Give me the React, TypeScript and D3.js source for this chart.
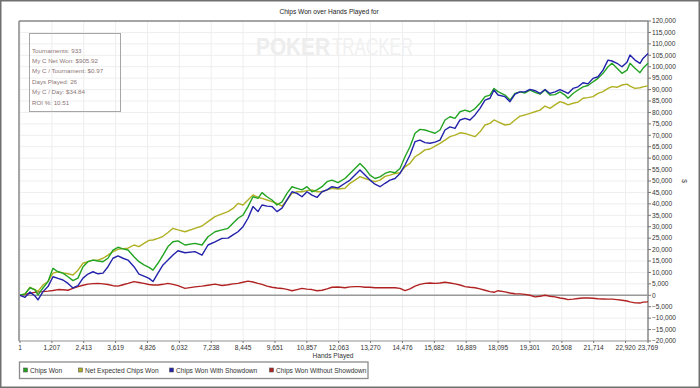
import React from "react";
import * as d3 from "d3";

// hands played at each sample point
const hands = [1, 190, 379, 568, 681, 871, 1060, 1249, 1438, 1627, 1817, 2006, 2195, 2385, 2574, 2763, 2952, 3142, 3331, 3520, 3709, 3899, 4088, 4315, 4504, 4693, 4883, 5034, 5223, 5413, 5602, 5791, 5980, 6245, 6624, 6889, 7116, 7381, 7646, 7873, 8062, 8251, 8441, 8630, 8819, 9008, 9160, 9349, 9538, 9727, 9917, 10106, 10295, 10484, 10674, 10863, 11052, 11241, 11431, 11620, 11809, 12036, 12301, 12490, 12680, 12869, 13058, 13247, 13437, 13626, 13815, 14004, 14194, 14383, 14572, 14761, 14951, 15140, 15329, 15518, 15708, 15897, 16086, 16275, 16465, 16654, 16843, 17032, 17222, 17411, 17600, 17789, 17940, 18092, 18357, 18546, 18735, 18925, 19114, 19303, 19492, 19682, 19871, 20060, 20249, 20439, 20628, 20741, 20931, 21120, 21309, 21498, 21688, 21877, 22066, 22255, 22407, 22596, 22785, 22975, 23088, 23277, 23466, 23580, 23769];

const chipsWon = [0, 600, 3300, 2400, 200, 3200, 6000, 11800, 10300, 9700, 8100, 6400, 7500, 12500, 14700, 15400, 15000, 14700, 16200, 19800, 21000, 20300, 19800, 16900, 14700, 13300, 12200, 11000, 14000, 17600, 21300, 23400, 23800, 22000, 22700, 22000, 25600, 27800, 28600, 29300, 31500, 33700, 35100, 38800, 43100, 42400, 44900, 43100, 41700, 39500, 40900, 44600, 47500, 46800, 46100, 47500, 45300, 46100, 47500, 49700, 50400, 49300, 51100, 53300, 55500, 57700, 55500, 52600, 51100, 51800, 53300, 54100, 53600, 55500, 60600, 65000, 70900, 72600, 72300, 71600, 70900, 72300, 76700, 78100, 77400, 80300, 81000, 80300, 81700, 84000, 86900, 87600, 90500, 89100, 87600, 85400, 88300, 89000, 88500, 89800, 88800, 88000, 89800, 87600, 87800, 89000, 87600, 86200, 88300, 89800, 91200, 91800, 93400, 94900, 97100, 100000, 101500, 99300, 97100, 98500, 101500, 99300, 97400, 99300, 101500];

const netExpected = [0, 500, 3500, 2500, 1700, 4500, 6000, 9700, 10300, 9800, 9400, 8900, 11000, 14000, 14700, 15400, 15400, 16200, 17600, 19100, 20100, 20400, 20600, 22000, 21300, 22700, 24000, 24200, 24900, 25800, 27500, 29300, 28600, 27800, 29300, 30300, 32200, 34400, 35600, 36600, 38000, 40200, 39500, 41700, 43900, 42900, 42400, 41700, 41000, 40200, 39000, 41700, 44600, 45300, 45300, 45800, 46100, 45300, 45300, 46100, 46800, 46500, 46800, 49000, 50400, 51900, 51100, 50400, 49700, 50400, 52000, 52600, 53300, 53600, 56200, 57700, 60600, 62000, 63600, 64000, 65300, 66500, 67900, 69400, 70100, 71100, 70800, 70100, 69400, 71500, 74500, 75200, 76700, 75900, 74500, 74800, 76700, 78400, 78900, 79600, 80300, 81000, 82800, 81800, 83300, 84700, 84000, 83300, 84000, 84500, 86200, 86500, 86900, 88300, 89100, 90500, 91300, 91000, 92000, 92400, 91500, 90500, 90800, 91200, 91600];

const withShowdown = [0, -900, 1400, -300, -2000, 1600, 3800, 8100, 7400, 6700, 5200, 3200, 4200, 7500, 9300, 10300, 9400, 9700, 12500, 16200, 17200, 16200, 15400, 12500, 9300, 8400, 7400, 6000, 9700, 13300, 15400, 17600, 19500, 18600, 19100, 17600, 22000, 23400, 24900, 25000, 26400, 27800, 30000, 33700, 38800, 36600, 39500, 39000, 38800, 36600, 38100, 41700, 45300, 44600, 43100, 45300, 43800, 42800, 45300, 46100, 47500, 47000, 49000, 50400, 52600, 54800, 52600, 50400, 48600, 47500, 49000, 50400, 51100, 53300, 57000, 61400, 67200, 67900, 66800, 66500, 67000, 67900, 72300, 73700, 73000, 76700, 77400, 76700, 78900, 81800, 85400, 86200, 89800, 87600, 86900, 84700, 88000, 89000, 89000, 90100, 89500, 88300, 90000, 88300, 89000, 90000, 89000, 88300, 90500, 91200, 93000, 92500, 94900, 95600, 98500, 102900, 102500, 101500, 100000, 102000, 105100, 102900, 101500, 103600, 105800];

const withoutShowdown = [0, 400, 900, 1300, 1500, 1600, 1800, 2100, 2500, 2400, 2200, 3000, 3800, 4400, 4900, 5100, 5200, 5000, 4700, 4200, 4000, 4600, 5200, 6000, 5600, 5200, 4700, 4500, 4500, 4800, 5200, 4800, 4200, 3000, 3700, 4000, 4400, 4900, 4300, 4600, 5000, 5200, 5700, 6200, 5800, 5200, 4800, 4000, 3500, 3200, 3000, 2600, 2000, 2500, 3000, 2700, 2500, 2000, 2200, 2800, 3500, 3600, 3300, 3700, 3800, 3800, 3500, 3500, 3300, 3300, 3300, 3300, 3300, 3000, 2000, 2800, 4000, 4800, 5200, 5400, 5200, 5400, 5700, 5400, 5000, 4500, 3800, 3500, 3300, 2800, 2200, 1600, 1300, 2000, 1500, 1000, 700, 600, 400, 0, -700, -400, 0, -400, -700, -1200, -1500, -1900, -1700, -1400, -1200, -1200, -1300, -1500, -1600, -1700, -1700, -1900, -2200, -2500, -2900, -3300, -3400, -3000, -2900];

const xTicks = [1, 1207, 2413, 3619, 4826, 6032, 7238, 8445, 9651, 10857, 12063, 13270, 14476, 15682, 16889, 18095, 19301, 20508, 21714, 22920, 23769];
const yTicks = [-20000, -15000, -10000, -5000, 0, 5000, 10000, 15000, 20000, 25000, 30000, 35000, 40000, 45000, 50000, 55000, 60000, 65000, 70000, 75000, 80000, 85000, 90000, 95000, 100000, 105000, 110000, 115000, 120000];

const seriesNames = ["Chips Won", "Net Expected Chips Won", "Chips Won With Showdown", "Chips Won Without Showdown"];
const seriesColors = ["#22a322", "#b0b024", "#2222aa", "#b02222"];

const infoLines = ["Tournaments: 933", "My C Net Won: $905.92", "My C / Tournament: $0.97", "Days Played: 26", "My C / Day: $34.84", "ROI %: 10.51"];

const W = 700, H = 388;
const left = 20, right = 648, top = 21, bottom = 341;
const font = "'Liberation Sans', Arial, sans-serif";

export default function App() {
  const x = d3.scaleLinear().domain([1, 23769]).range([left, right]);
  const y = d3.scaleLinear().domain([-20000, 120000]).range([bottom, top]);
  const fmt = d3.format(",");

  const line = d3.line<number>()
    .x((d, i) => x(hands[i]))
    .y(d => y(d));

  const data = [chipsWon, netExpected, withShowdown, withoutShowdown];
  // draw order: red, olive, green, blue on top
  const order = [3, 1, 0, 2];

  const legendX = [24, 79, 170, 270];

  return (
    <svg width={W} height={H} style={{ position: "absolute", left: 0, top: 0, background: "#fff" }} fontFamily={font}>
      <rect x={0.75} y={0.75} width={W - 1.5} height={H - 1.5} fill="#fff" stroke="#707070" strokeWidth={1.5} />

      <text x={329} y={14} fontSize={6.6} textAnchor="middle" fill="#222">Chips Won over Hands Played for</text>

      {/* grid */}
      {yTicks.map(t => (
        <line key={"gy" + t} x1={left} x2={right} y1={y(t)} y2={y(t)} stroke="#eeeeee" strokeWidth={1} />
      ))}
      {xTicks.map(t => (
        <line key={"gx" + t} x1={x(t)} x2={x(t)} y1={top} y2={bottom} stroke="#eeeeee" strokeWidth={1} />
      ))}

      {/* watermark */}
      <text x={256} y={55} fontSize={23} fontWeight="bold" fill="#ededed" textLength={74} lengthAdjust="spacingAndGlyphs">POKER</text>
      <text x={332} y={55} fontSize={23} fill="#f1f1f1" textLength={81} lengthAdjust="spacingAndGlyphs">TRACKER</text>

      {/* plot frame */}
      <line x1={19} x2={19} y1={top} y2={bottom} stroke="#8a8a8a" strokeWidth={1.5} />
      <line x1={19} x2={right} y1={top} y2={top} stroke="#8a8a8a" strokeWidth={1.5} />
      <line x1={19} x2={right} y1={bottom} y2={bottom} stroke="#999" strokeWidth={1.2} />
      <line x1={right} x2={right} y1={top} y2={bottom} stroke="#8a8a8a" strokeWidth={1.5} />
      <line x1={left} x2={right} y1={y(0)} y2={y(0)} stroke="#999" strokeWidth={1.5} />

      {/* info box */}
      <rect x={29.5} y={33.5} width={91} height={78} fill="none" stroke="#a6a6a6" strokeWidth={1} />
      {infoLines.map((s, i) => (
        <text key={s} x={32} y={52.5 + i * 10.4} fontSize={6.2} fill="#8c7676">{s}</text>
      ))}

      {/* series */}
      {order.map(k => (
        <path key={seriesNames[k]} d={line(data[k]) || ""} fill="none" stroke={seriesColors[k]} strokeWidth={1.4} strokeLinejoin="round" />
      ))}

      {/* y axis */}
      {yTicks.map(t => (
        <g key={"yt" + t} transform={`translate(${right},${y(t)})`}>
          <line x1={0} x2={3} stroke="#777" strokeWidth={1} />
          <text x={4} dy="0.35em" fontSize={6.6} fill="#333">{fmt(t)}</text>
        </g>
      ))}
      <text transform={`translate(682,181) rotate(90)`} fontSize={6.6} textAnchor="middle" fill="#333">$</text>

      {/* x axis */}
      {xTicks.map(t => (
        <g key={"xt" + t} transform={`translate(${x(t)},${bottom})`}>
          <line y1={0} y2={2} stroke="#777" strokeWidth={1} />
          <text y={9} fontSize={6.6} textAnchor="middle" fill="#333">{fmt(t)}</text>
        </g>
      ))}
      <text x={333} y={358} fontSize={6.6} textAnchor="middle" fill="#333">Hands Played</text>

      {/* legend */}
      <rect x={19.5} y={362} width={348.5} height={16.5} fill="#fff" stroke="#8c8c8c" strokeWidth={1.3} />
      {seriesNames.map((n, i) => (
        <g key={n}>
          <rect x={legendX[i] - 0.5} y={368} width={4} height={4} fill={seriesColors[i]} stroke="#555" strokeWidth={0.6} />
          <text x={legendX[i] + 6} y={372.5} fontSize={6.6} fill="#333">{n}</text>
        </g>
      ))}
    </svg>
  );
}
